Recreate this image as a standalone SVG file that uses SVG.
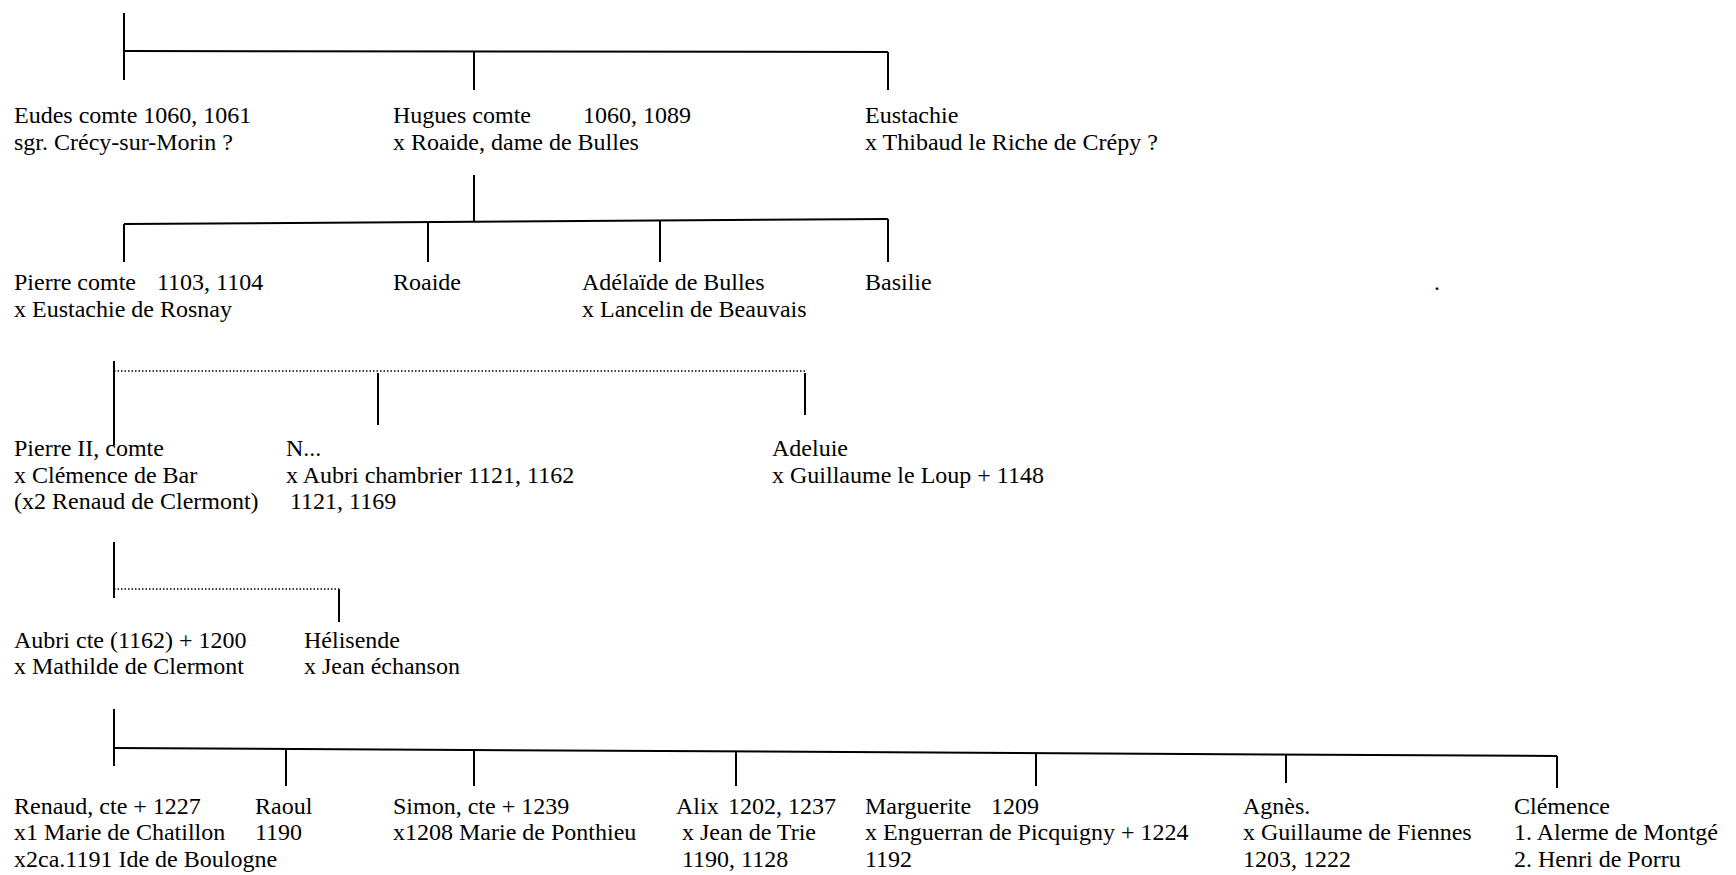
<svg xmlns="http://www.w3.org/2000/svg" width="1736" height="875" viewBox="0 0 1736 875">
<style>
text{font-family:"Liberation Serif","Times New Roman",serif;font-size:24px;fill:#000}
.l{stroke:#000;stroke-width:2;fill:none}
.d{stroke:#000;stroke-width:1.3;stroke-dasharray:1.5 2;fill:none}
</style>
<rect width="1736" height="875" fill="#fff"/>
<g id="connectors">
<line class="l" x1="124" y1="13" x2="124" y2="80"/>
<line class="l" x1="124" y1="51" x2="888" y2="52"/>
<line class="l" x1="474" y1="51" x2="474" y2="90"/>
<line class="l" x1="888" y1="52" x2="888" y2="90"/>
<line class="l" x1="474" y1="175" x2="474" y2="221"/>
<line class="l" x1="124" y1="224" x2="888" y2="219"/>
<line class="l" x1="124" y1="224" x2="124" y2="262"/>
<line class="l" x1="428" y1="222" x2="428" y2="262"/>
<line class="l" x1="660" y1="221" x2="660" y2="262"/>
<line class="l" x1="888" y1="219" x2="888" y2="262"/>
<line class="l" x1="114" y1="361" x2="114" y2="445"/>
<line class="d" x1="114" y1="371" x2="805" y2="371"/>
<line class="l" x1="378" y1="373" x2="378" y2="425"/>
<line class="l" x1="805" y1="373" x2="805" y2="415"/>
<line class="l" x1="114" y1="542" x2="114" y2="598"/>
<line class="d" x1="114" y1="589" x2="339" y2="589"/>
<line class="l" x1="339" y1="589" x2="339" y2="622"/>
<line class="l" x1="114" y1="709" x2="114" y2="766"/>
<line class="l" x1="114" y1="748" x2="1557" y2="756"/>
<line class="l" x1="286" y1="749" x2="286" y2="786"/>
<line class="l" x1="474" y1="750" x2="474" y2="786"/>
<line class="l" x1="736" y1="751" x2="736" y2="786"/>
<line class="l" x1="1036" y1="753" x2="1036" y2="786"/>
<line class="l" x1="1286" y1="754" x2="1286" y2="783"/>
<line class="l" x1="1557" y1="756" x2="1557" y2="788"/>
</g>
<g id="eudes"><text x="14" y="123">Eudes comte 1060, 1061</text><text x="14" y="150">sgr. Crécy-sur-Morin ?</text></g>
<g id="hugues"><text x="393" y="123">Hugues comte</text><text x="583" y="123">1060, 1089</text><text x="393" y="150">x Roaide, dame de Bulles</text></g>
<g id="eustachie"><text x="865" y="123">Eustachie</text><text x="865" y="150">x Thibaud le Riche de Crépy ?</text></g>
<g id="pierre"><text x="14" y="290">Pierre comte</text><text x="157" y="290">1103, 1104</text><text x="14" y="317">x Eustachie de Rosnay</text></g>
<g id="roaide"><text x="393" y="290">Roaide</text></g>
<g id="adelaide"><text x="582" y="290">Adélaïde de Bulles</text><text x="582" y="317">x Lancelin de Beauvais</text></g>
<g id="basilie"><text x="865" y="290">Basilie</text></g>
<g id="dot"><text x="1434" y="290">.</text></g>
<g id="pierre2"><text x="14" y="456">Pierre II, comte</text><text x="14" y="483">x Clémence de Bar</text><text x="14" y="509">(x2 Renaud de Clermont)</text></g>
<g id="n"><text x="286" y="456">N...</text><text x="286" y="483">x Aubri chambrier 1121, 1162</text><text x="290" y="509">1121, 1169</text></g>
<g id="adeluie"><text x="772" y="456">Adeluie</text><text x="772" y="483">x Guillaume le Loup + 1148</text></g>
<g id="aubri"><text x="14" y="648">Aubri cte (1162) + 1200</text><text x="14" y="674">x Mathilde de Clermont</text></g>
<g id="helisende"><text x="304" y="648">Hélisende</text><text x="304" y="674">x Jean échanson</text></g>
<g id="renaud"><text x="14" y="814">Renaud, cte + 1227</text><text x="14" y="840">x1 Marie de Chatillon</text><text x="14" y="867">x2ca.1191 Ide de Boulogne</text></g>
<g id="raoul"><text x="255" y="814">Raoul</text><text x="255" y="840">1190</text></g>
<g id="simon"><text x="393" y="814">Simon, cte + 1239</text><text x="393" y="840">x1208 Marie de Ponthieu</text></g>
<g id="alix"><text x="676" y="814">Alix</text><text x="728" y="814">1202, 1237</text><text x="682" y="840">x Jean de Trie</text><text x="682" y="867">1190, 1128</text></g>
<g id="marguerite"><text x="865" y="814">Marguerite</text><text x="991" y="814">1209</text><text x="865" y="840">x Enguerran de Picquigny + 1224</text><text x="865" y="867">1192</text></g>
<g id="agnes"><text x="1243" y="814">Agnès.</text><text x="1243" y="840">x Guillaume de Fiennes</text><text x="1243" y="867">1203, 1222</text></g>
<g id="clemence"><text x="1514" y="814">Clémence</text><text x="1514" y="840">1. Alerme de Montgé</text><text x="1514" y="867">2. Henri de Porru</text></g>
</svg>
